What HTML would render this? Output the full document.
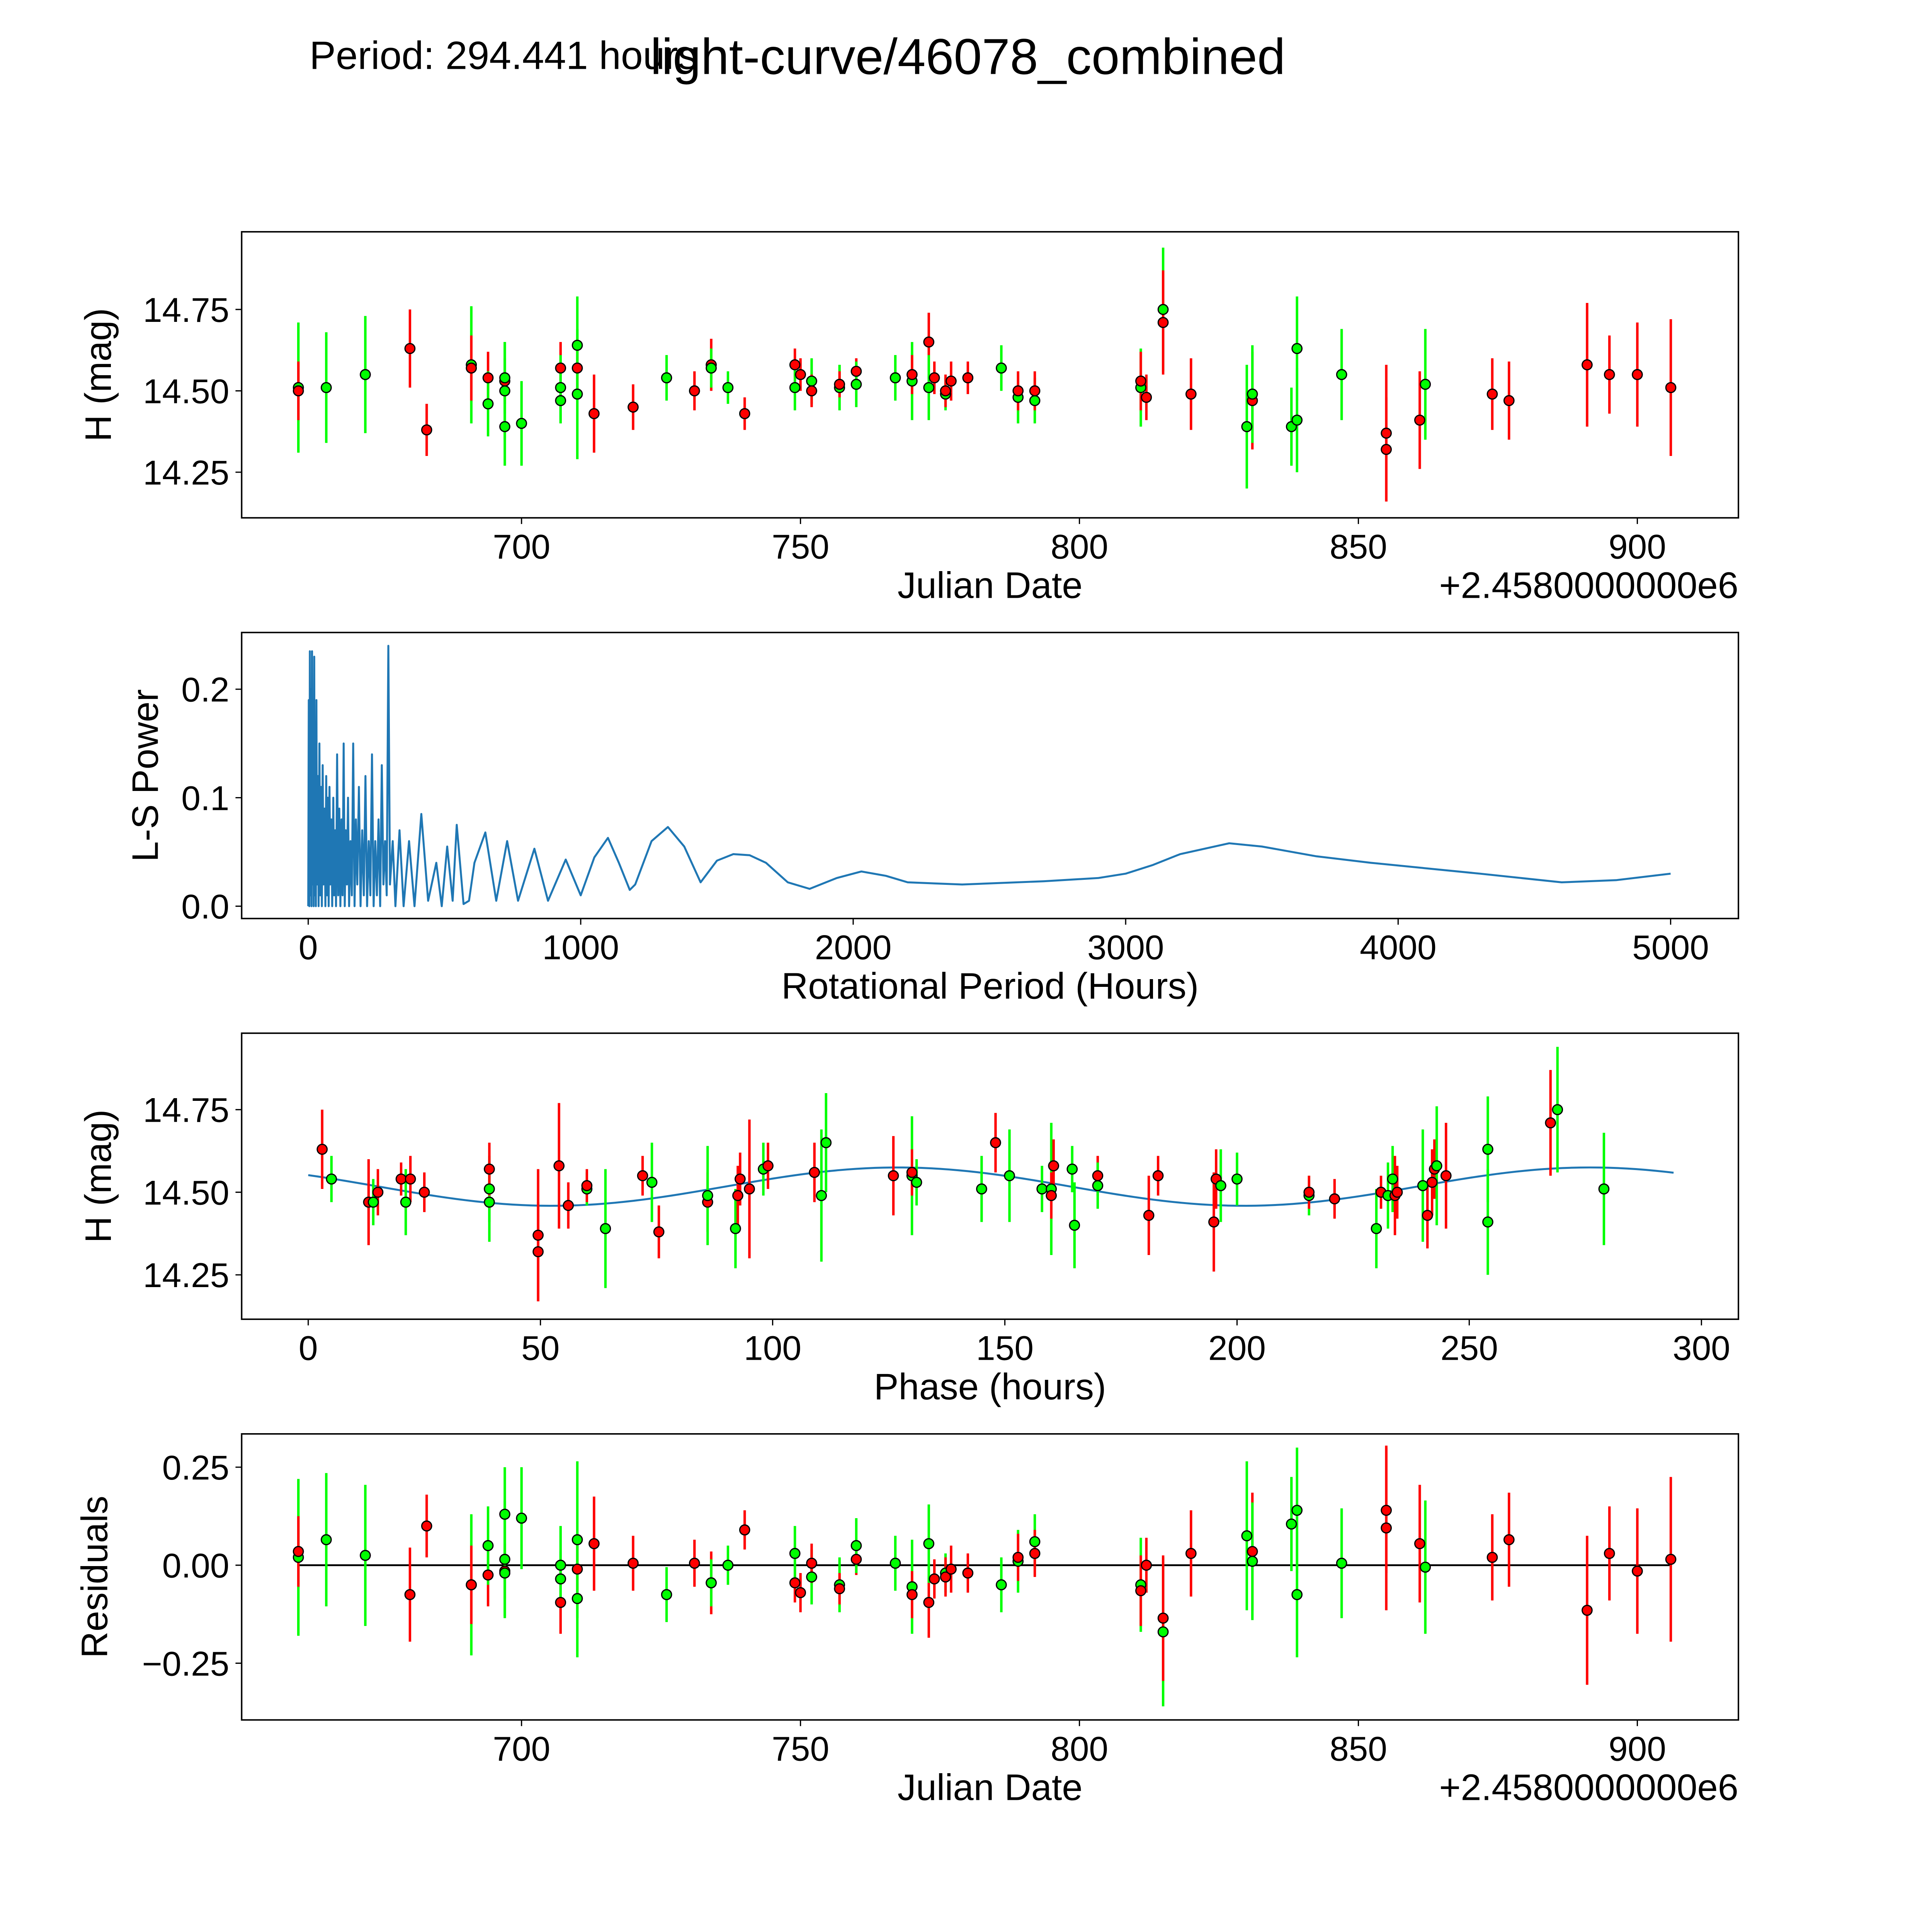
<!DOCTYPE html>
<html><head><meta charset="utf-8"><style>
html,body{margin:0;padding:0;background:#fff;overflow:hidden;width:100%;height:100%;}
svg{display:block;position:fixed;left:0;top:0;width:100vw;height:100vh;font-family:"Liberation Sans","DejaVu Sans",sans-serif;}
</style></head><body>
<svg id="fig" viewBox="0 0 1567 1567" preserveAspectRatio="none" xmlns="http://www.w3.org/2000/svg">
<rect x="0" y="0" width="1567" height="1567" fill="#fff"/>
<text x="251" y="56" font-size="32">Period: 294.441 hours</text>
<text x="785" y="60" font-size="41" text-anchor="middle">light-curve/46078_combined</text>
<g id="g1"></g>
<g id="g2"></g>
<g id="g3"></g>
<g id="g4"></g>
</svg>
<script>
// ---- data ----
const obsDates=[660,660,665,672,680,683,691,691,694,694,697,697,697,697,700,707,707,707,710,710,710,713,720,726,731,734,734,737,740,749,749,750,752,752,757,757,760,760,767,770,770,773,773,774,776,776,777,780,786,789,789,792,792,811,811,812,815,815,820,830,831,831,838,839,839,847,855,855,861,862,874,877,891,895,900,906];
const obsMags=[14.51,14.50,14.51,14.55,14.63,14.38,14.58,14.57,14.54,14.46,14.39,14.53,14.54,14.50,14.40,14.57,14.51,14.47,14.64,14.57,14.49,14.43,14.45,14.54,14.50,14.58,14.57,14.51,14.43,14.58,14.51,14.55,14.53,14.50,14.51,14.52,14.56,14.52,14.54,14.53,14.55,14.65,14.51,14.54,14.49,14.50,14.53,14.54,14.57,14.48,14.50,14.47,14.50,14.51,14.53,14.48,14.75,14.71,14.49,14.39,14.47,14.49,14.39,14.41,14.63,14.55,14.32,14.37,14.41,14.52,14.49,14.47,14.58,14.55,14.55,14.51];
const obsErrs=[0.2,0.09,0.17,0.18,0.12,0.08,0.18,0.1,0.08,0.1,0.12,0.07,0.11,0.15,0.13,0.08,0.1,0.07,0.15,0.07,0.2,0.12,0.07,0.07,0.06,0.08,0.06,0.05,0.05,0.05,0.07,0.05,0.07,0.05,0.07,0.04,0.04,0.07,0.07,0.12,0.06,0.09,0.1,0.05,0.05,0.05,0.06,0.05,0.07,0.08,0.06,0.07,0.06,0.12,0.09,0.07,0.19,0.16,0.11,0.19,0.15,0.15,0.12,0.16,0.16,0.14,0.16,0.21,0.15,0.17,0.11,0.12,0.19,0.12,0.16,0.21];
const obsBands=["g","r","g","g","r","r","g","r","r","g","g","r","g","g","g","r","g","g","g","r","g","r","r","g","r","r","g","g","r","r","g","r","g","r","g","r","r","g","g","g","r","r","g","r","g","r","r","r","g","g","r","g","r","g","r","r","g","r","r","g","r","g","g","g","g","g","r","r","r","g","r","r","r","r","r","r"];
const residVals=[0.02,0.035,0.065,0.025,-0.075,0.10,-0.05,-0.05,-0.025,0.05,0.13,-0.015,-0.02,0.015,0.12,-0.095,0.0,-0.035,-0.085,-0.01,0.065,0.055,0.005,-0.075,0.005,-0.045,-0.045,0.0,0.09,-0.045,0.03,-0.07,-0.03,0.005,-0.05,-0.06,0.015,0.05,0.005,-0.055,-0.075,-0.095,0.055,-0.035,-0.02,-0.03,-0.01,-0.02,-0.05,0.01,0.02,0.06,0.03,-0.05,-0.065,0.0,-0.17,-0.135,0.03,0.075,0.035,0.01,0.105,0.14,-0.075,0.005,0.14,0.095,0.055,-0.005,0.02,0.065,-0.115,0.03,-0.015,0.015];
const phVals=[3,5,13,14,15,20,21,22,25,39,39,39,49.5,49.5,54,56,60,60,64,72,74,75.5,86,86,92,92.5,93,95,98,99,109,110.5,111.5,126,130,130,131,145,148,151,158,160,160,160.5,164.5,165,170,170,181,183,195,195.5,196.5,200,215.5,215.5,221,230,231,232.5,233.5,234,234.5,240,241,242,242.5,243,245,254,254,267.5,269,279];
const phMags=[14.63,14.54,14.47,14.47,14.50,14.54,14.47,14.54,14.50,14.51,14.47,14.57,14.37,14.32,14.58,14.46,14.51,14.52,14.39,14.55,14.53,14.38,14.47,14.49,14.39,14.49,14.54,14.51,14.57,14.58,14.56,14.49,14.65,14.55,14.55,14.56,14.53,14.51,14.65,14.55,14.51,14.51,14.49,14.58,14.57,14.40,14.55,14.52,14.43,14.55,14.41,14.54,14.52,14.54,14.49,14.50,14.48,14.39,14.50,14.49,14.54,14.49,14.50,14.52,14.43,14.53,14.57,14.58,14.55,14.63,14.41,14.71,14.75,14.51];
const phErrs=[0.12,0.07,0.13,0.07,0.07,0.05,0.1,0.07,0.06,0.1,0.12,0.08,0.2,0.15,0.19,0.07,0.05,0.05,0.18,0.06,0.12,0.08,0.09,0.15,0.12,0.09,0.08,0.21,0.08,0.07,0.09,0.2,0.15,0.12,0.18,0.07,0.07,0.1,0.09,0.14,0.07,0.2,0.07,0.08,0.07,0.13,0.06,0.07,0.12,0.06,0.15,0.09,0.11,0.08,0.06,0.05,0.06,0.12,0.05,0.1,0.1,0.12,0.08,0.17,0.1,0.1,0.09,0.18,0.16,0.16,0.16,0.16,0.19,0.17];
const phBands=["r","g","r","g","r","r","g","r","r","g","g","r","r","r","r","r","g","r","g","r","g","r","r","g","g","r","r","r","g","r","r","g","g","r","g","r","g","g","r","g","g","g","r","r","g","g","r","g","r","r","r","r","g","g","g","r","r","g","r","g","g","r","r","g","r","r","r","g","r","g","g","r","g","g"];
const lsPeriods=[0,2,4,6,8,10,12,14,16,18,20,22,24,26,28,30,32,35,38,41,44,47,50,53,56,60,63,66,69,72,75,78,81,85,88,92,95,99,102,106,110,114,118,122,126,130,134,138,142,146,150,155,160,165,170,175,180,186,192,198,204,210,216,222,228,234,240,246,252,258,264,270,276,282,288,294,300,310,320,335,350,370,390,415,440,470,490,510,530,545,570,590,610,650,690,730,770,830,880,945,1000,1050,1100,1140,1180,1200,1260,1320,1380,1440,1500,1560,1620,1680,1760,1840,1940,2030,2120,2200,2400,2700,2900,3000,3100,3200,3380,3500,3700,3900,4300,4600,4800,5000];
const lsPower=[0,0.19,0,0.235,0.01,0.2,0,0.235,0.02,0.19,0,0.23,0.01,0.17,0,0.19,0.02,0.12,0,0.15,0.01,0.11,0,0.13,0.02,0.09,0,0.12,0.01,0.1,0,0.11,0.02,0.08,0,0.1,0.01,0.07,0,0.14,0.01,0.09,0,0.08,0.01,0.15,0,0.07,0.02,0.1,0,0.06,0.01,0.15,0,0.08,0.02,0.11,0,0.07,0.01,0.12,0,0.06,0.01,0.14,0,0.06,0.01,0.08,0,0.13,0.02,0.06,0.01,0.24,0.02,0.06,0,0.07,0,0.06,0,0.085,0.005,0.04,0,0.055,0.005,0.075,0.002,0.005,0.04,0.068,0.005,0.06,0.005,0.053,0.005,0.043,0.01,0.045,0.063,0.04,0.015,0.02,0.06,0.073,0.055,0.022,0.042,0.048,0.047,0.04,0.022,0.016,0.026,0.032,0.028,0.022,0.02,0.023,0.026,0.03,0.038,0.048,0.058,0.055,0.046,0.04,0.03,0.022,0.024,0.03];
const periodHours=294.441, modelMean=14.517, modelAmp=0.058, modelPeak=127, modelWave=149;
const jdTicks=[700,750,800,850,900], magTicks=[14.25,14.5,14.75], magTickLabels=["14.25","14.50","14.75"];
const lsXTicks=[0,1000,2000,3000,4000,5000], lsYTicks=[0,0.1,0.2], lsYLabels=["0.0","0.1","0.2"];
const phTicks=[0,50,100,150,200,250,300], resTicks=[-0.25,0,0.25], resLabels=["\u22120.25","0.00","0.25"];

// ---- helpers ----
const NS="http://www.w3.org/2000/svg";
function mk(par,tag,at){const e=document.createElementNS(NS,tag);for(const k in at)e.setAttribute(k,at[k]);par.appendChild(e);return e;}
function lin(d0,d1,p0,p1){return v=>p0+(v-d0)*(p1-p0)/(d1-d0);}
const L=196,R=1410;
function frame(g,top,bot,xs,xt,xl,ys,yt,yl,xlabel,ylabel,offset,ylx){
  const r=mk(g,'rect',{x:L,y:top,width:R-L,height:bot-top,fill:'none',stroke:'#000','stroke-width':1.2});
  
  xt.forEach((v,i)=>{const x=xs(v);mk(g,'line',{x1:x,x2:x,y1:bot,y2:bot+5,stroke:'#000'});
    const t=mk(g,'text',{x:x,y:bot+33,'font-size':28,'text-anchor':'middle'});t.textContent=xl[i];
    });
  yt.forEach((v,i)=>{const y=ys(v);mk(g,'line',{x1:L-5,x2:L,y1:y,y2:y,stroke:'#000'});
    const t=mk(g,'text',{x:L-10,y:y+10,'font-size':28,'text-anchor':'end'});t.textContent=yl[i];
    });
  const xa=mk(g,'text',{x:(L+R)/2,y:bot+65,'font-size':30,'text-anchor':'middle'});xa.textContent=xlabel;
  
  const cy=(top+bot)/2;
  const ya=mk(g,'text',{x:0,y:0,'font-size':30,'text-anchor':'middle',transform:`translate(${ylx+10},${cy}) rotate(-90)`});ya.textContent=ylabel;
  
  if(offset){const o=mk(g,'text',{x:R,y:bot+65,'font-size':30,'text-anchor':'end'});o.textContent='+2.4580000000e6';
    }
}
function scatter(g,xs,ys,xv,yv,ev,bands){
  for(let i=0;i<xv.length;i++){const c=bands[i]==='g'?'#00ff00':'#ff0000';const x=xs(xv[i]);
    const b=mk(g,'line',{x1:x,x2:x,y1:ys(yv[i]-ev[i]),y2:ys(yv[i]+ev[i]),stroke:c,'stroke-width':2});
    }
  for(let i=0;i<xv.length;i++){const c=bands[i]==='g'?'#00ff00':'#ff0000';
    const p=mk(g,'circle',{cx:xs(xv[i]),cy:ys(yv[i]),r:4,fill:c,stroke:'#000','stroke-width':1});
    }
}
const model=p=>modelMean+modelAmp*Math.cos(2*Math.PI*(p-modelPeak)/modelWave);

// panel 1
const g1=document.getElementById('g1');
const jx=lin(700,900,423,1328);
const my1=lin(14.25,14.75,383,251);
frame(g1,188,420,jx,jdTicks,jdTicks.map(String),my1,magTicks,magTickLabels,'Julian Date','H (mag)',true,80);
scatter(g1,jx,my1,obsDates,obsMags,obsErrs,obsBands);

// panel 2
const g2=document.getElementById('g2');
const lx=lin(0,5000,250,1355), ly=lin(0,0.2,735,559);
frame(g2,513,745,lx,lsXTicks,lsXTicks.map(String),ly,lsYTicks,lsYLabels,'Rotational Period (Hours)','L-S Power',false,118);
const pl=mk(g2,'polyline',{points:lsPeriods.map((p,i)=>lx(p)+','+ly(lsPower[i])).join(' '),fill:'none',stroke:'#1f77b4','stroke-width':1.6,'stroke-linejoin':'round'});


// panel 3
const g3=document.getElementById('g3');
const px=lin(0,300,250,1380), my3=lin(14.25,14.75,1034,900);
frame(g3,838,1070,px,phTicks,phTicks.map(String),my3,magTicks,magTickLabels,'Phase (hours)','H (mag)',false,80);
const mpts=[];for(let p=0;p<=periodHours;p+=2)mpts.push(px(p)+','+my3(model(p)));
const ml=mk(g3,'polyline',{points:mpts.join(' '),fill:'none',stroke:'#1f77b4','stroke-width':1.6});

scatter(g3,px,my3,phVals,phMags,phErrs,phBands);

// panel 4
const g4=document.getElementById('g4');
const ry=lin(-0.25,0.25,1349,1190);
frame(g4,1163,1395,jx,jdTicks,jdTicks.map(String),ry,resTicks,resLabels,'Julian Date','Residuals',true,77);
const zl=mk(g4,'line',{x1:jx(660),x2:jx(906),y1:ry(0),y2:ry(0),stroke:'#000','stroke-width':1.5});

scatter(g4,jx,ry,obsDates,residVals,obsErrs,obsBands);
</script>
</body></html>
